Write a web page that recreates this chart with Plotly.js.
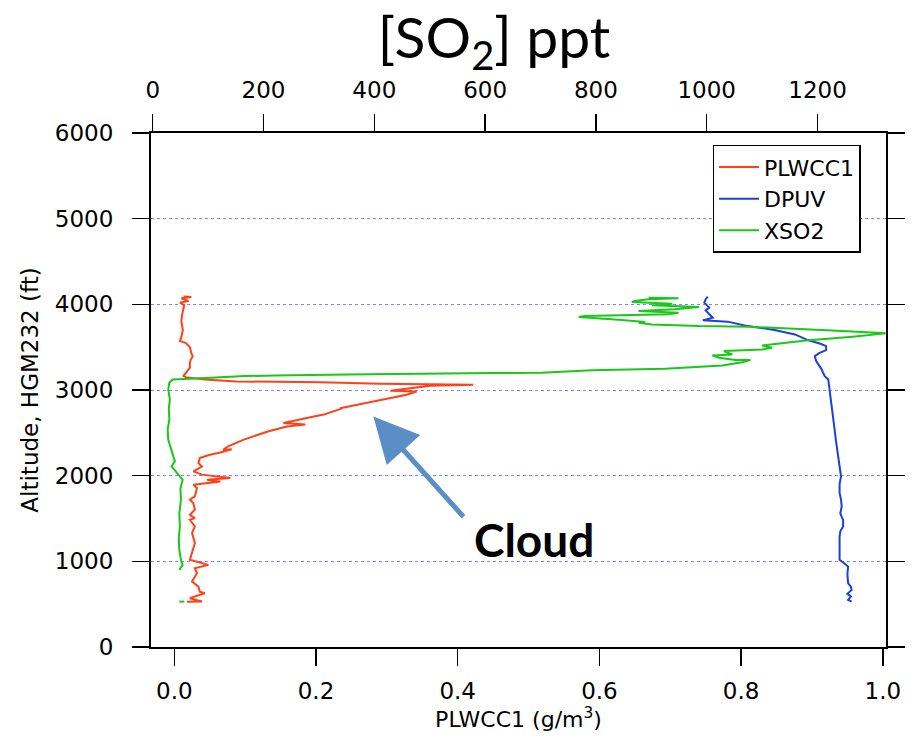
<!DOCTYPE html>
<html>
<head>
<meta charset="utf-8">
<script src="https://cdn.plot.ly/plotly-3.0.1.min.js"></script>
<style>html,body{margin:0;padding:0;background:#fff;}</style>
</head>
<body>
<div id="chart" style="width:921px;height:741px;"></div>
<script>
// Altitude (ft) and PLWCC1 (g/m^3)
const plwccAlt = [4090,4085,4070,4040,4020,3990,3950,3880,3800,3700,3620,3570,3550,3500,3430,3395,3350,3320,3260,3200,3165,3150,
  3123,3100,3090,3073,3061,3050,2990,2983,2944,2866,2788,2780,2713,2690,2660,2616,2596,2574,2518,2457,2421,2343,2301,2309,2270,2245,2207,2148,2106,2050,2012,1973,1951,1931,1895,1854,1758,1719,1679,1602,1543,1504,1485,1407,1330,1213,1095,1018,959,920,861,764,705,646,628,570,530,529];
const plwcc = [0.013,0.024,0.010,0.020,0.008,0.014,0.013,0.011,0.010,0.012,0.010,0.008,0.016,0.022,0.024,0.026,0.023,0.022,0.022,0.017,0.013,0.016,
  0.043,0.088,0.206,0.290,0.422,0.361,0.305,0.342,0.328,0.281,0.234,0.235,0.211,0.197,0.178,0.154,0.185,0.159,0.133,0.112,0.098,0.076,0.069,0.081,0.065,0.050,0.036,0.034,0.039,0.027,0.039,0.079,0.046,0.065,0.027,0.032,0.029,0.022,0.027,0.029,0.022,0.029,0.022,0.029,0.025,0.029,0.025,0.022,0.048,0.029,0.032,0.025,0.034,0.036,0.043,0.022,0.039,0.018];

// Altitude (ft) and DPUV
const dpuvAlt = [4090,4060,4020,3990,3961,3930,3903,3870,3844,3813,3798,3754,3700,3649,3583,3540,3512,3466,3430,3395,3337,3250,3161,3123,3006,2889,2694,2538,2400,2226,2100,1992,1900,1798,1720,1641,1560,1480,1407,1350,1290,1150,1018,980,939,850,745,700,667,620,590,550,530];
const dpuv = [0.753,0.750,0.748,0.752,0.755,0.750,0.753,0.756,0.760,0.746,0.781,0.805,0.847,0.876,0.894,0.912,0.920,0.920,0.910,0.904,0.906,0.913,0.918,0.923,0.925,0.927,0.930,0.932,0.934,0.937,0.939,0.941,0.939,0.939,0.941,0.942,0.940,0.944,0.944,0.940,0.939,0.939,0.939,0.945,0.951,0.950,0.951,0.955,0.956,0.950,0.955,0.951,0.956];

// Altitude (ft) and XSO2 (ppt)
const so2Alt = [4078,4070,4058,4040,4027,4008,3988,3969,3942,3922,3903,3883,3863,3851,3816,3793,3786,3766,3746,3739,3688,3661,3622,3579,3520,3493,3474,3454,3415,3404,3377,3349,3349,3325,3287,3248,3232,3201,3197,3193,3181,3170,3162,3143,3131,3123,3084,3006,2889,2780,2655,2540,2421,2304,2167,2109,2050,1953,1850,1719,1560,1407,1270,1134,1018,959,900,null,530,530];
const so2 = [895,949,895,870,865,938,901,986,943,877,949,931,780,769,847,889,877,901,986,1076,1245,1323,1263,1179,1100,1118,1100,1031,1046,1010,1022,1052,1079,1064,1028,925,793,702,612,521,352,220,165,105,39,36,30,28,31,29,30,27,28,34,40,34,42,54,50,51,48,49,47,48,51,54,48,null,48,57];

const seriesNames = ['PLWCC1','DPUV','XSO2'];
const xTicks = [0,0.2,0.4,0.6,0.8,1.0];
const topTicks = [0,200,400,600,800,1000,1200];
const yTicks = [0,1000,2000,3000,4000,5000,6000];

const tickFont = {family:'DejaVu Sans', size:23, color:'#000'};
const traces = [
  {x: plwcc, y: plwccAlt, name: seriesNames[0], type:'scatter', mode:'lines', xaxis:'x', yaxis:'y',
   line:{color:'#ff4019', width:2}},
  {x: dpuv, y: dpuvAlt, name: seriesNames[1], type:'scatter', mode:'lines', xaxis:'x', yaxis:'y',
   line:{color:'#1f3fd9', width:2}},
  {x: so2, y: so2Alt, name: seriesNames[2], type:'scatter', mode:'lines', xaxis:'x2', yaxis:'y',
   line:{color:'#19c819', width:2}, connectgaps:false}
];

const layout = {
  width:921, height:741,
  margin:{l:151, r:35, t:133, b:94},
  paper_bgcolor:'#fff', plot_bgcolor:'#fff',
  showlegend:true,
  title:{text:'[SO<sub>2</sub>] ppt', font:{family:'Lato', size:57, color:'#000'},
         x:494/921, xanchor:'center', xref:'container', y:1-38/741, yanchor:'middle', yref:'container'},
  xaxis:{range:[-0.0329,1.0045], tickvals:xTicks, ticktext:xTicks.map(v=>v.toFixed(1)),
    ticks:'outside', ticklen:17, tickwidth:1.5, tickcolor:'#000',
    showline:true, linewidth:2, linecolor:'#000', showgrid:false, zeroline:false,
    tickfont:tickFont, ticklabelstandoff:5,
    title:{text:'PLWCC1 (g/m<sup>3</sup>)', font:{family:'DejaVu Sans', size:22, color:'#000'}, standoff:8}},
  xaxis2:{overlaying:'x', side:'top', range:[-3.1,1323.6], tickvals:topTicks,
    ticks:'outside', ticklen:17, tickwidth:1.5, tickcolor:'#000',
    showline:true, linewidth:2, linecolor:'#000', showgrid:false, zeroline:false,
    tickfont:tickFont, ticklabelstandoff:7},
  yaxis:{range:[0,6000], tickvals:yTicks, ticks:'outside', ticklen:17, tickwidth:1.5, tickcolor:'#000',
    showline:true, linewidth:2, linecolor:'#000', mirror:'ticks',
    showgrid:true, gridcolor:'#8080ff', griddash:'dot', gridwidth:1, zeroline:false,
    tickfont:tickFont, ticklabelstandoff:14,
    title:{text:'Altitude, HGM232 (ft)', font:{family:'DejaVu Sans', size:23, color:'#000'}, standoff:10}},
  legend:{x:0.764, y:0.977, xanchor:'left', yanchor:'top', bgcolor:'#fff',
    bordercolor:'#000', borderwidth:1.5, font:{family:'DejaVu Sans', size:22, color:'#000'},
    tracegroupgap:0, itemwidth:40},
  annotations:[
    {x:0.281, y:2690, xref:'x', yref:'y', ax:0.410, ay:1503, axref:'x', ayref:'y',
     text:'', showarrow:true, arrowhead:2, arrowsize:1.8, arrowwidth:5, arrowcolor:'#5b8ec6'},
    {x:0.508, y:1250, xref:'x', yref:'y', text:'<b>Cloud</b>', showarrow:false,
     font:{family:'Lato', size:46, color:'#000'}, xanchor:'center', yanchor:'middle'}
  ]
};

Plotly.newPlot('chart', traces, layout, {displayModeBar:false, staticPlot:true});
</script>
</body>
</html>
